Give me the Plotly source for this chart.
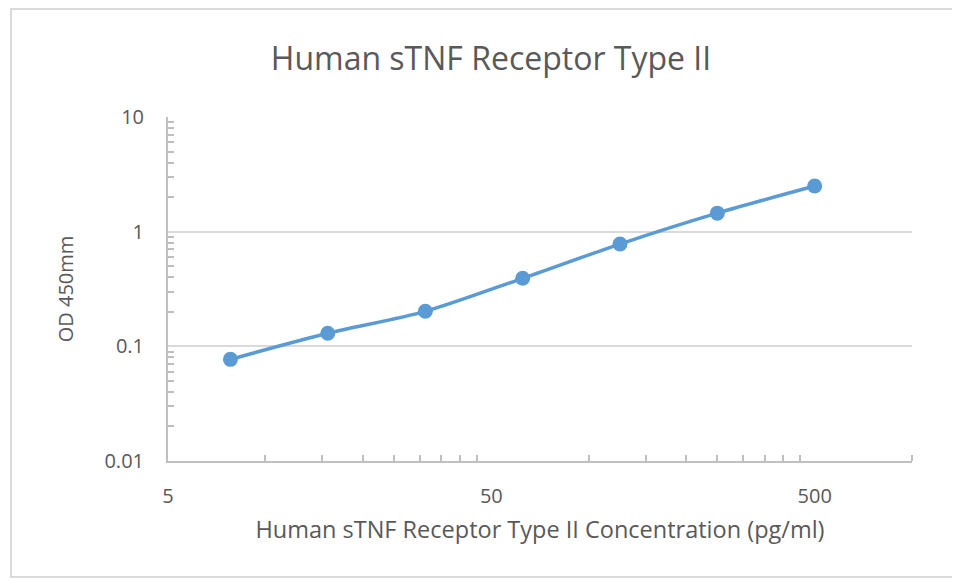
import plotly.graph_objects as go

# Data
concentration = [7.8, 15.6, 31.25, 62.5, 125, 250, 500]
od450 = [0.077, 0.130, 0.202, 0.392, 0.78, 1.45, 2.5]

x_tickvals = [5, 50, 500]
x_ticktext = ["5", "50", "500"]
x_minor = [10, 15, 20, 25, 30, 35, 40, 45, 100, 150, 200, 250, 300, 350, 400, 450, 1000]
y_tickvals = [0.01, 0.1, 1, 10]
y_ticktext = ["0.01", "0.1", "1", "10"]
y_minor = [m * d for d in [0.01, 0.1, 1] for m in range(2, 10)]

FONT = "Open Sans"
LINE = "#5B9BD5"
AX = "#BFBFBF"
TXT = "#595959"

W, H = 960, 581
PL, PT, PW, PH = 160, 109, 744, 344

fig = go.Figure()
fig.add_trace(go.Scatter(
    x=concentration, y=od450, mode="lines+markers",
    line=dict(color=LINE, width=3.5, shape="spline", smoothing=0.8),
    marker=dict(color=LINE, size=15),
    showlegend=False,
))

# chart-area border: left, top and bottom edges (right edge lies outside the view)
bx0, bx1 = -157/PW, 1 + 120/PW
by0, by1 = -116/PH, 1 + 108/PH
border = f"M {bx1} {by1} L {bx0} {by1} L {bx0} {by0} L {bx1} {by0}"

fig.update_layout(
    width=W, height=H,
    margin=dict(l=PL, r=W - PL - PW, t=PT, b=H - PT - PH),
    paper_bgcolor="white", plot_bgcolor="white",
    font=dict(family=FONT, color=TXT),
    title=dict(text="Human sTNF Receptor Type II", x=483/W, xanchor="center",
               y=1 - 51/H, yanchor="middle",
               font=dict(size=32, color=TXT, family=FONT)),
    xaxis=dict(
        type="log", range=[0.69897, 3.0],
        tickmode="array", tickvals=x_tickvals, ticktext=x_ticktext,
        ticks="", showgrid=False, zeroline=False,
        showline=True, linecolor=AX, linewidth=2,
        tickfont=dict(size=20, color=TXT),
        ticklabelstandoff=16,
        minor=dict(tickmode="array", tickvals=x_minor, ticks="inside",
                   ticklen=6, tickcolor=AX, tickwidth=1.5, showgrid=False),
        title=dict(text="Human sTNF Receptor Type II Concentration (pg/ml)",
                   font=dict(size=23.5, color=TXT), standoff=14),
    ),
    yaxis=dict(
        type="log", range=[-2, 1],
        tickmode="array", tickvals=y_tickvals, ticktext=y_ticktext,
        ticks="", showgrid=True, gridcolor="#D9D9D9", gridwidth=1.5,
        zeroline=False,
        showline=True, linecolor=AX, linewidth=2,
        tickfont=dict(size=20, color=TXT),
        ticklabelstandoff=18,
        minor=dict(tickmode="array", tickvals=y_minor, ticks="inside",
                   ticklen=6, tickcolor=AX, tickwidth=1.5, showgrid=False),
        title=dict(text="OD 450mm", font=dict(size=20, color=TXT), standoff=25),
    ),
    shapes=[dict(type="path", xref="paper", yref="paper", path=border,
                 line=dict(color="#D9D9D9", width=2), layer="below")],
)

fig.write_html("out.html")
